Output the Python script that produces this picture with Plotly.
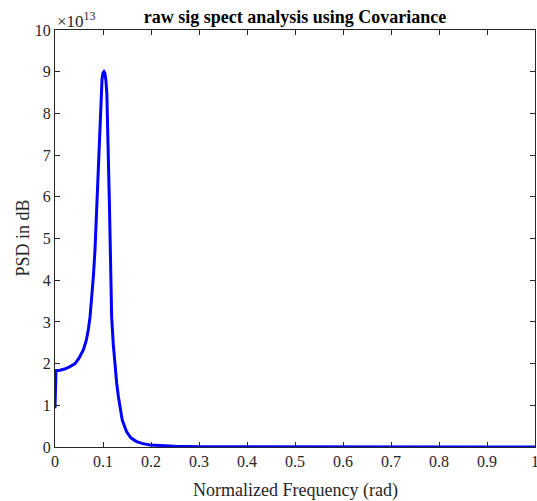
import plotly.graph_objects as go

# Normalized frequency (rad) and PSD values (in units of 1e13)
freq = [0.0, 0.002, 0.010, 0.020, 0.030, 0.0417, 0.050, 0.059, 0.065, 0.0694,
        0.073, 0.0764, 0.080, 0.0833, 0.0868, 0.0903, 0.093, 0.0958, 0.098, 0.100,
        0.102, 0.104, 0.106, 0.108, 0.110, 0.1115, 0.1135, 0.1155, 0.118, 0.1215,
        0.125, 0.1285, 0.132, 0.136, 0.140, 0.149, 0.158, 0.170, 0.183, 0.198,
        0.220, 0.250, 0.300, 0.400, 0.500, 0.600, 0.700, 0.800, 0.900, 1.000]
psd_e13 = [0.93, 1.83, 1.84, 1.87, 1.92, 2.00, 2.13, 2.33, 2.55, 2.81,
           3.12, 3.53, 4.10, 4.72, 5.80, 6.88, 7.70, 8.48, 8.82, 8.97,
           9.00, 8.96, 8.80, 8.48, 7.70, 6.88, 5.75, 4.60, 3.12, 2.45,
           1.93, 1.53, 1.21, 0.90, 0.65, 0.37, 0.22, 0.13, 0.08, 0.05,
           0.03, 0.015, 0.008, 0.004, 0.003, 0.002, 0.002, 0.001, 0.001, 0.001]

x_ticks = [0, 0.1, 0.2, 0.3, 0.4, 0.5, 0.6, 0.7, 0.8, 0.9, 1]
x_tick_labels = ["0", "0.1", "0.2", "0.3", "0.4", "0.5", "0.6", "0.7", "0.8", "0.9", "1"]
y_ticks = list(range(0, 11))
y_tick_labels = [str(v) for v in y_ticks]

FONT = "Liberation Serif, Times New Roman, serif"
AX = "#262626"

fig = go.Figure()
fig.add_trace(go.Scatter(x=freq, y=psd_e13, mode="lines",
                         line=dict(color="#0000ff", width=3), showlegend=False,
                         hoverinfo="skip"))

axis_common = dict(showgrid=False, zeroline=False, showline=True, linecolor=AX,
                   linewidth=1, mirror="ticks", ticks="inside", ticklen=5,
                   tickcolor=AX, tickwidth=1, automargin=False,
                   ticklabeloverflow="allow",
                   tickfont=dict(family=FONT, size=16, color=AX))

fig.update_layout(
    width=537, height=501,
    margin=dict(l=55, r=2, t=30, b=54, autoexpand=False),
    paper_bgcolor="white", plot_bgcolor="white",
    title=dict(text="<b>raw sig spect analysis using Covariance</b>",
               x=0.5, xref="paper", xanchor="center",
               y=1 - 17 / 501, yref="container", yanchor="middle",
               automargin=False,
               font=dict(family=FONT, size=18, color="black")),
    xaxis=dict(range=[0, 1], tickvals=x_ticks, ticktext=x_tick_labels, **axis_common),
    yaxis=dict(range=[0, 10], tickvals=y_ticks, ticktext=y_tick_labels, **axis_common),
    annotations=[
        dict(text="×10<sup>13</sup>", x=0, y=1, xref="paper", yref="paper",
             xanchor="left", yanchor="bottom", showarrow=False,
             xshift=0, yshift=-3,
             font=dict(family=FONT, size=17, color=AX)),
        dict(text="Normalized Frequency (rad)", x=0.5, y=-43 / 417,
             xref="paper", yref="paper", xanchor="center", yanchor="middle",
             showarrow=False, font=dict(family=FONT, size=18, color=AX)),
        dict(text="PSD in dB", x=-33 / 480, y=0.5, textangle=-90,
             xref="paper", yref="paper", xanchor="center", yanchor="middle",
             showarrow=False, font=dict(family=FONT, size=18, color=AX)),
    ],
)
fig.write_html("out.html", config={"displayModeBar": False},
               post_script="document.body.style.margin='0';")
